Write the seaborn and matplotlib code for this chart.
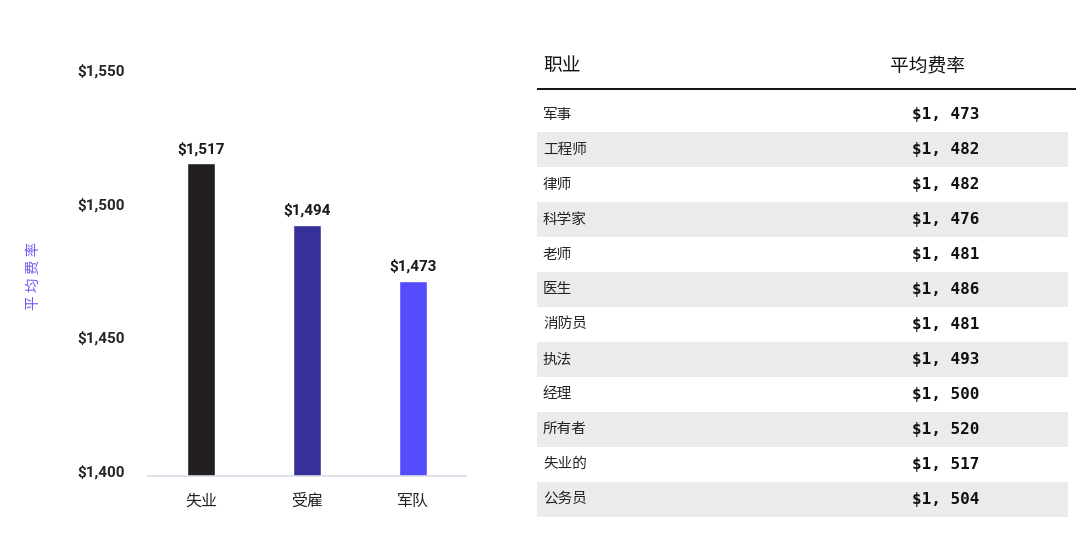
import matplotlib
matplotlib.use("Agg")
import matplotlib.pyplot as plt
import matplotlib.transforms as mtransforms
import seaborn as sns
import pandas as pd

# ---- data ----
bar_categories = ["失业", "受雇", "军队"]
bar_values = [1517, 1494, 1473]
bar_colors = ["#231f20", "#37309b", "#554cfc"]

y_ticks = [1400, 1450, 1500, 1550]

table_header = ["职业", "平均费率"]
occupations = ["军事", "工程师", "律师", "科学家", "老师", "医生",
               "消防员", "执法", "经理", "所有者", "失业的", "公务员"]
occupation_rates = [1473, 1482, 1482, 1476, 1481, 1486,
                    1481, 1493, 1500, 1520, 1517, 1504]

sns.set_theme(style="white")
plt.rcParams['font.family'] = ['Roboto', 'Noto Sans CJK SC', 'DejaVu Sans']
CJK = ['Noto Sans CJK SC', 'DejaVu Sans']

W, H = 1080, 536
fig = plt.figure(figsize=(W / 100, H / 100), dpi=100)

# ---- bar chart ----
ax = fig.add_axes([148 / W, (H - 476) / H, 318 / W, 401 / H])
df = pd.DataFrame({"cat": bar_categories, "val": bar_values})
sns.barplot(data=df, x="cat", y="val", hue="cat", palette=bar_colors,
            legend=False, width=0.26, ax=ax, saturation=1)
ax.set_ylim(1400, 1550)
ax.set_yticks(y_ticks)
ax.set_yticklabels([f"${v:,}" for v in y_ticks], fontweight="bold",
                   fontsize=11, family=['Roboto', 'DejaVu Sans'])
ax.tick_params(axis="y", length=0, pad=17)
ax.tick_params(axis="x", length=0, pad=12)
shift = mtransforms.ScaledTranslation(0, 5 / 100, fig.dpi_scale_trans)
for lbl in ax.get_yticklabels():
    lbl.set_transform(lbl.get_transform() + shift)
for lbl in ax.get_xticklabels():
    lbl.set_family(CJK)
    lbl.set_fontsize(11.5)
    lbl.set_color("#222222")
ax.set_xlabel("")
ax.set_ylabel("平 均 费 率", family=CJK, fontsize=10.5, color="#6b5cf5", labelpad=26)
for s in ["top", "right", "left"]:
    ax.spines[s].set_visible(False)
ax.spines["bottom"].set_color("#dcdbe8")
ax.spines["bottom"].set_linewidth(1.2)
for i, v in enumerate(bar_values):
    ax.annotate(f"${v:,}", xy=(i, v), xytext=(0, 5), textcoords="offset points",
                ha="center", va="bottom", fontsize=11, fontweight="bold",
                family=['Roboto', 'DejaVu Sans'], color="#1a1a1a")

# ---- table ----
tx = fig.add_axes([537 / W, (H - 520) / H, 539 / W, 475 / H])
tx.set_xlim(0, 1)
tx.set_ylim(11.6, -2.0)
tx.axis("off")

for i, (occ, rate) in enumerate(zip(occupations, occupation_rates)):
    if i % 2 == 1:
        tx.fill_between([0, 0.985], i - 0.5, i + 0.5, color="#ebebeb", lw=0)
    tx.text(0.011, i, occ, family=CJK, fontsize=10.5, va="center", ha="left",
            color="#222222")
    tx.text(0.759, i, f"${rate // 1000}, {rate % 1000:03d}",
            family=['DejaVu Sans Mono'], fontweight="bold", fontsize=11.5,
            va="center", ha="center", color="#111111")

tx.text(0.011, -1.40, table_header[0], family=CJK, fontsize=13.5,
        va="center", ha="left", color="#111111")
tx.text(0.725, -1.40, table_header[1], family=CJK, fontsize=13.5,
        va="center", ha="center", color="#111111")
tx.plot([0, 1], [-0.745, -0.745], color="#111111", lw=1.4)

fig.savefig("out.png", dpi=100, facecolor="white")
